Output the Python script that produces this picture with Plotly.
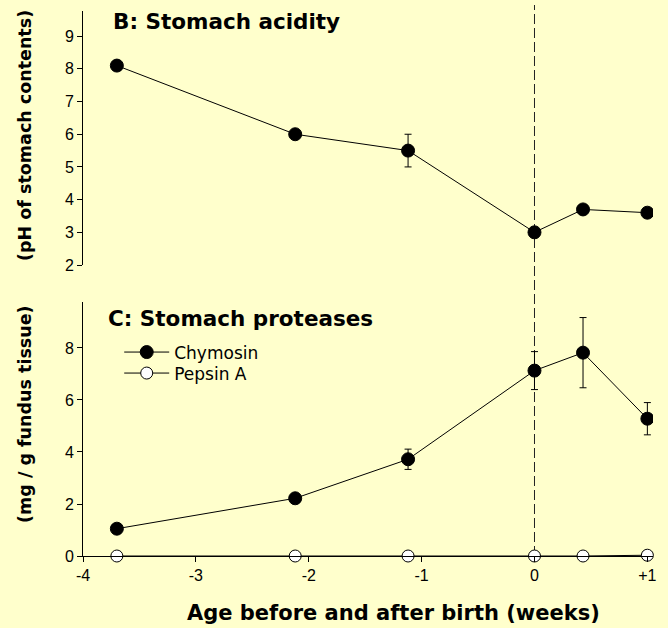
import plotly.graph_objects as go

# Data
weeks = [-3.7, -2.12, -1.12, 0.0, 0.43, 1.0]
ph_values = [8.1, 6.0, 5.5, 3.0, 3.7, 3.6]
ph_err = [0.15, 0.05, 0.5, 0.05, 0.15, 0.12]
chymosin = [1.05, 2.22, 3.72, 7.13, 7.82, 5.28]
chymosin_err = [0.1, 0.1, 0.39, 0.73, 1.35, 0.62]
pepsin_a = [0.0, 0.0, 0.0, 0.0, 0.0, 0.03]
x_tickvals = [-4, -3, -2, -1, 0, 1]
x_ticktext = ["-4", "-3", "-2", "-1", "0", "+1"]
ph_ticks = [2, 3, 4, 5, 6, 7, 8, 9]
prot_ticks = [0, 2, 4, 6, 8]

BG = "#FFFFCC"
FONT = "Liberation Sans, Arial, sans-serif"
BOLD = "DejaVu Sans, Liberation Sans, Arial, sans-serif"

L, R, T, B = 82.5, 11, 11, 72
W, H = 668, 628
PW, PH = W - L - R, H - T - B


def px_x(p):
    return (p - L) / PW


def px_y(p):
    return (H - B - p) / PH


fig = go.Figure()

fig.add_trace(go.Scatter(
    x=weeks, y=ph_values, mode="lines+markers", xaxis="x", yaxis="y",
    line=dict(color="black", width=1),
    marker=dict(symbol="circle", size=13, color="black", line=dict(color="black", width=1)),
    error_y=dict(type="data", array=ph_err, color="black", thickness=1, width=3.5),
    showlegend=False,
))

fig.add_trace(go.Scatter(
    x=weeks, y=pepsin_a, mode="lines+markers", xaxis="x", yaxis="y2", name="Pepsin A",
    line=dict(color="black", width=1),
    marker=dict(symbol="circle", size=12, color="white", line=dict(color="black", width=1)),
    cliponaxis=False, legend="legend2",
))

fig.add_trace(go.Scatter(
    x=weeks, y=chymosin, mode="lines+markers", xaxis="x", yaxis="y2", name="Chymosin",
    line=dict(color="black", width=1),
    marker=dict(symbol="circle", size=13, color="black", line=dict(color="black", width=1)),
    error_y=dict(type="data", array=chymosin_err, color="black", thickness=1, width=3.5),
    legend="legend",
))

fig.add_shape(type="line", xref="x", yref="paper", x0=0, x1=0, y0=0, y1=px_y(5),
              line=dict(color="#222222", width=1, dash="10px,4px"), layer="below")

axis_common = dict(showline=True, linecolor="black", linewidth=1, ticks="outside",
                   ticklen=5, tickcolor="black", showgrid=False, zeroline=False,
                   tickfont=dict(family=FONT, size=16, color="black"))

legend_common = dict(xanchor="left", yanchor="top", bgcolor="rgba(0,0,0,0)",
                     font=dict(family="DejaVu Sans, sans-serif", size=17, color="black"),
                     itemwidth=45)

fig.update_layout(
    width=W, height=H,
    paper_bgcolor=BG, plot_bgcolor=BG,
    margin=dict(l=L, r=R, t=T, b=B),
    font=dict(family=FONT, color="black"),
    xaxis=dict(range=[-4, 1.05], tickvals=x_tickvals, ticktext=x_ticktext, anchor="y2",
               **axis_common),
    yaxis=dict(domain=[px_y(265), 1.0], range=[2, 9.77], tickvals=ph_ticks, anchor="x",
               **axis_common),
    yaxis2=dict(domain=[0.0, px_y(301.7)], range=[0, 9.78], tickvals=prot_ticks, anchor="x",
                **axis_common),
    legend=dict(x=px_x(119), y=px_y(334.5), **legend_common),
    legend2=dict(x=px_x(119), y=px_y(355.5), **legend_common),
    showlegend=True,
    annotations=[
        dict(text="<b>B: Stomach acidity</b>", xref="paper", yref="paper",
             x=px_x(111), y=px_y(22), xanchor="left", yanchor="middle",
             showarrow=False, font=dict(family=BOLD, size=21.5, color="black")),
        dict(text="<b>C: Stomach proteases</b>", xref="paper", yref="paper",
             x=px_x(106), y=px_y(318), xanchor="left", yanchor="middle",
             showarrow=False, font=dict(family=BOLD, size=21.5, color="black")),
        dict(text="<b>Age before and after birth (weeks)</b>", xref="paper", yref="paper",
             x=px_x(395), y=px_y(613), xanchor="center", yanchor="middle",
             showarrow=False, font=dict(family=BOLD, size=21, color="black")),
        dict(text="<b>(pH of stomach contents)</b>", xref="paper", yref="paper",
             x=px_x(24), y=px_y(135), xanchor="center", yanchor="middle", textangle=-90,
             showarrow=False, font=dict(family=BOLD, size=17.5, color="black")),
        dict(text="<b>(mg / g fundus tissue)</b>", xref="paper", yref="paper",
             x=px_x(24), y=px_y(414), xanchor="center", yanchor="middle", textangle=-90,
             showarrow=False, font=dict(family=BOLD, size=17.5, color="black")),
    ],
)

fig.write_html("out.html", config={"displayModeBar": False},
               post_script="document.body.style.margin='0';document.body.style.background='#FFFFCC';")
